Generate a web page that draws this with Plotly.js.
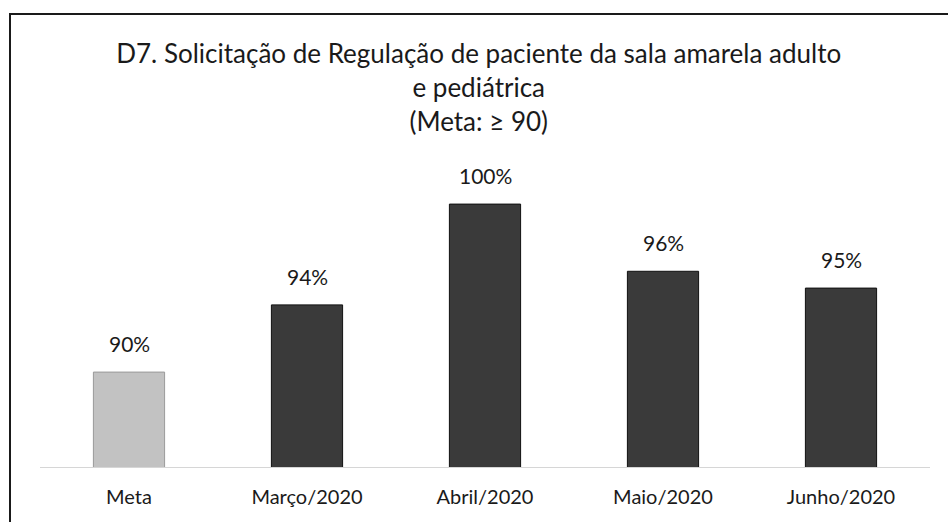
<!DOCTYPE html>
<html>
<head>
<meta charset="utf-8">
<script src="https://cdn.plot.ly/plotly-3.0.1.min.js"></script>
<style>
  html, body { margin: 0; padding: 0; background: #fff; }
  #wrap { position: relative; width: 948px; height: 522px; }
  #chart { position: absolute; left: 0; top: 0; width: 948px; height: 522px; }
  #frame { position: absolute; left: 9px; top: 13px; width: 939px; height: 509px;
           border-top: 2px solid #1a1a1a; border-left: 2px solid #1a1a1a; box-sizing: border-box; pointer-events: none; }
</style>
</head>
<body>
<div id="wrap">
  <div id="chart"></div>
  <div id="frame"></div>
</div>
<script>
const categories = ["Meta", "Março/2020", "Abril/2020", "Maio/2020", "Junho/2020"];
const values = [90, 94, 100, 96, 95];
const labels = ["90%", "94%", "100%", "96%", "95%"];
const barColors = ["#c2c2c2", "#3a3a3a", "#3a3a3a", "#3a3a3a", "#3a3a3a"];
const lineColors = ["#9a9a9a", "#111111", "#111111", "#111111", "#111111"];

const FONT = "Lato, 'Open Sans', sans-serif";

const trace = {
  type: "bar",
  x: categories,
  y: values,
  marker: { color: barColors, line: { color: lineColors, width: 1 } },
  hoverinfo: "skip"
};

const annotations = categories.map((c, i) => ({
  x: c, y: values[i], xref: "x", yref: "y",
  text: labels[i], showarrow: false,
  yanchor: "bottom", yshift: 14,
  font: { family: FONT, size: 21, color: "#1a1a1a" }
}));

const layout = {
  width: 948, height: 522,
  margin: { l: 40, r: 18, t: 150, b: 55 },
  paper_bgcolor: "#ffffff", plot_bgcolor: "#ffffff",
  title: {
    text: "D7. Solicitação de Regulação de paciente da sala amarela adulto<br>e pediátrica<br>(Meta: ≥ 90)",
    font: { family: FONT, size: 26, color: "#1a1a1a" },
    x: 0.505, xanchor: "center",
    y: 0.879, yanchor: "top", yref: "container"
  },
  bargap: 0.6,
  showlegend: false,
  xaxis: {
    showline: true, linecolor: "#d6d6d6", linewidth: 1,
    showgrid: false, ticks: "",
    tickfont: { family: FONT, size: 20, color: "#1a1a1a" },
    ticklabelstandoff: 12
  },
  yaxis: {
    range: [84.35, 103.22],
    visible: false, showgrid: false, zeroline: false
  },
  annotations: annotations
};

Plotly.newPlot("chart", [trace], layout, { displayModeBar: false, staticPlot: true });
</script>
</body>
</html>
